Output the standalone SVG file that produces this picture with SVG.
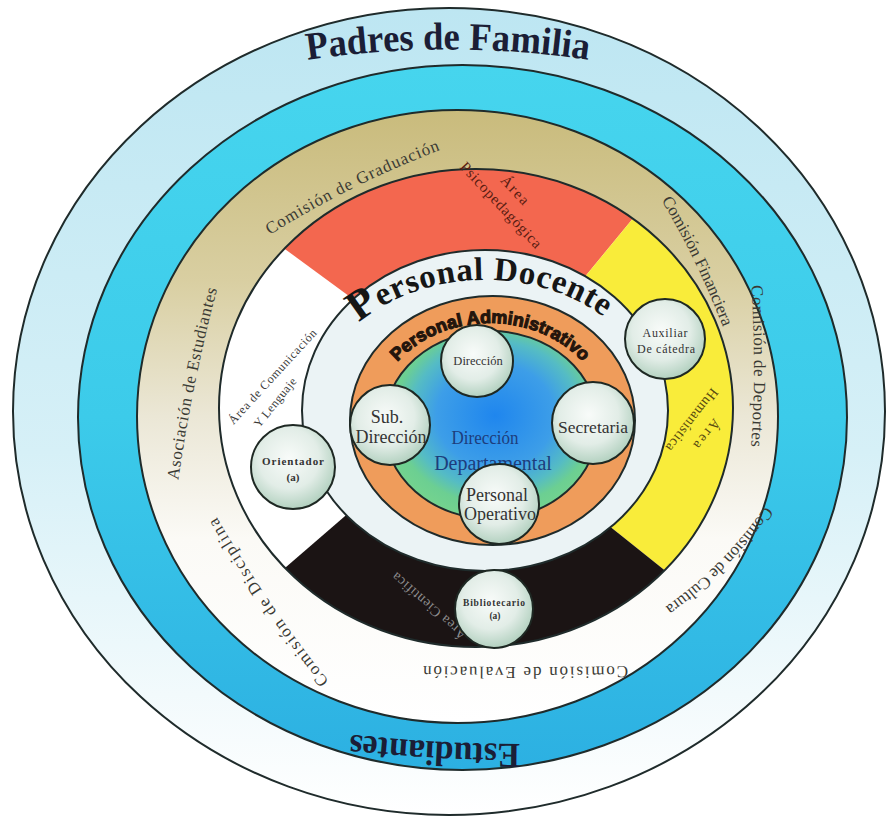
<svg xmlns="http://www.w3.org/2000/svg" width="888" height="821" viewBox="0 0 888 821">
<defs>
<style>
.ring{stroke:#1f2b2b;stroke-width:2}
.com{font-family:"Liberation Serif","Times New Roman",serif;font-size:17px;fill:#3a3a34}
.node circle{fill:url(#nodeGrad);stroke:#1e2823;stroke-width:2}
.nt{font-family:"Liberation Serif","Times New Roman",serif;fill:#333;text-anchor:middle}
.area{font-family:"Liberation Serif","Times New Roman",serif;text-anchor:middle;dominant-baseline:central}
</style>
<linearGradient id="lbGrad" x1="0" y1="0" x2="0" y2="1">
<stop offset="0" stop-color="#bde6f2"/><stop offset="0.55" stop-color="#d6f0f7"/><stop offset="0.85" stop-color="#f2fafc"/><stop offset="1" stop-color="#ffffff"/>
</linearGradient>
<linearGradient id="cyGrad" x1="0" y1="0" x2="0" y2="1">
<stop offset="0" stop-color="#46d5ee"/><stop offset="0.5" stop-color="#3ccbea"/><stop offset="1" stop-color="#2cb0e2"/>
</linearGradient>
<linearGradient id="bgGrad" x1="0" y1="0" x2="0" y2="1">
<stop offset="0" stop-color="#c9bb7c"/><stop offset="0.28" stop-color="#d9cfa2"/><stop offset="0.5" stop-color="#ebe7d6"/><stop offset="0.7" stop-color="#fbfaf6"/><stop offset="1" stop-color="#ffffff"/>
</linearGradient>
<radialGradient id="ctrGrad" cx="0.52" cy="0.45" r="0.55">
<stop offset="0" stop-color="#1f86ee"/><stop offset="0.5" stop-color="#3d9ee8"/><stop offset="0.72" stop-color="#55bcc4"/><stop offset="0.86" stop-color="#6ccf92"/><stop offset="1" stop-color="#74d38e"/>
</radialGradient>
<radialGradient id="nodeGrad" cx="0.45" cy="0.4" r="0.6">
<stop offset="0" stop-color="#f8fbf9"/><stop offset="0.6" stop-color="#e2ede7"/><stop offset="1" stop-color="#b3d1c0"/>
</radialGradient>
<clipPath id="ring4clip"><ellipse cx="476" cy="408" rx="257" ry="239"/></clipPath>
<path id="p-padres" d="M 300,61 Q 448,38 596,61"/>
<path id="p-estud" d="M 524,744 Q 436,744 346,734"/>
<path id="p-docente" d="M 315,410 A 170,130 0 0 1 655,410"/>
<path id="p-admin" d="M 372,425 A 118,102 0 0 1 608,425"/>
<path id="p-grad" d="M 263,232 Q 347.5,178.5 442,143"/>
<path id="p-asoc" d="M 172,482 Q 186,382 212,285"/>
<path id="p-fin" d="M 666,196 Q 702.5,257 729,326"/>
<path id="p-dep" d="M 757,283 Q 763,366 757,449"/>
<path id="p-cult" d="M 771,508 Q 729,570 667,613"/>
<path id="p-eval" d="M 630,672 Q 526,674 421,672"/>
<path id="p-disc" d="M 330,692 Q 264,612 207,512"/>
</defs>
<rect width="888" height="821" fill="#ffffff"/>

<g id="rings">
<ellipse id="ring-padres" class="ring" cx="449" cy="411.5" rx="436" ry="403.5" fill="url(#lbGrad)"/>
<ellipse id="ring-estudiantes" class="ring" cx="462.5" cy="417.5" rx="384.5" ry="352.5" fill="url(#cyGrad)"/>
<ellipse id="ring-comisiones" class="ring" cx="457.5" cy="416.5" rx="320.5" ry="306.5" fill="url(#bgGrad)"/>
<ellipse cx="476" cy="408" rx="257" ry="239" fill="#ffffff"/>
<g id="sectores" clip-path="url(#ring4clip)">
<polygon id="sector-psico" fill="#f3674f" points="432,357 180,172 180,40 700,40 693,145.5 537.6,334.2"/>
<polygon id="sector-human" fill="#f9ec3a" points="537.6,334.2 693,145.5 820,140 820,650 748,637 563,489"/>
<polygon id="sector-cient" fill="#1b1414" points="563,489 748,637 760,730 190,730 207,635.5 399.4,469"/>
</g>
<ellipse class="ring" cx="476" cy="408" rx="257" ry="239" fill="none"/>
<ellipse id="ring-docente" class="ring" cx="485" cy="410.5" rx="183" ry="160.5" fill="#ebf3f5"/>
<ellipse id="ring-admin" class="ring" cx="492.5" cy="420.5" rx="142.5" ry="124.5" fill="#ef9c5b"/>
<ellipse id="centro" class="ring" cx="491" cy="425" rx="107" ry="94" fill="url(#ctrGrad)"/>
</g>

<g id="padres-de-familia">
<text font-family="Liberation Serif, Times New Roman, serif" font-weight="bold" font-size="39" fill="#1b1e36"><textPath href="#p-padres" startOffset="50%" text-anchor="middle" textLength="282" lengthAdjust="spacingAndGlyphs">Padres de Familia</textPath></text>
</g>
<g id="estudiantes">
<text font-family="Liberation Serif, Times New Roman, serif" font-weight="bold" font-size="35" fill="#1b1e36"><textPath href="#p-estud" startOffset="4" textLength="170" lengthAdjust="spacingAndGlyphs">Estudiantes</textPath></text>
</g>

<g id="comisiones" class="com" dominant-baseline="central">
<text class="com"><textPath href="#p-grad" startOffset="50%" text-anchor="middle" textLength="192" lengthAdjust="spacing">Comisión de Graduación</textPath></text>
<text class="com"><textPath href="#p-asoc" startOffset="50%" text-anchor="middle" textLength="196" lengthAdjust="spacing">Asociación de Estudiantes</textPath></text>
<text class="com"><textPath href="#p-fin" startOffset="50%" text-anchor="middle" textLength="142" lengthAdjust="spacing">Comisión Financiera</textPath></text>
<text class="com"><textPath href="#p-dep" startOffset="50%" text-anchor="middle" textLength="162" lengthAdjust="spacing">Comisión de Deportes</textPath></text>
<text class="com"><textPath href="#p-cult" startOffset="50%" text-anchor="middle" textLength="145" lengthAdjust="spacing">Comisión de Cultura</textPath></text>
<text class="com"><textPath href="#p-eval" startOffset="50%" text-anchor="middle" textLength="205" lengthAdjust="spacing">Comisión de Evaluación</textPath></text>
<text class="com"><textPath href="#p-disc" startOffset="50%" text-anchor="middle" textLength="200" lengthAdjust="spacing">Comisión de Disciplina</textPath></text>
</g>

<g id="areas">
<text class="area" font-size="15" fill="#5b1d12" transform="translate(501,205) rotate(47)" textLength="112" lengthAdjust="spacing">Psicopedagógica</text>
<text class="area" font-size="15" fill="#5b1d12" transform="translate(515,190) rotate(47)" textLength="34" lengthAdjust="spacing">Área</text>
<text class="area" font-size="12" fill="#3a3a3a" transform="translate(272.5,376.5) rotate(-47.5)" textLength="124" lengthAdjust="spacing">Área de Comunicación</text>
<text class="area" font-size="12" fill="#3a3a3a" transform="translate(275,402.5) rotate(-51)" textLength="60" lengthAdjust="spacing">Y Lenguaje</text>
<text class="area" font-size="14" fill="#55470f" transform="translate(692,420) rotate(128)" textLength="76" lengthAdjust="spacing">Humanística</text>
<text class="area" font-size="14" fill="#55470f" transform="translate(707,434) rotate(128)" textLength="34" lengthAdjust="spacing">Área</text>
<text class="area" font-size="14" fill="#8e8e8e" transform="translate(429,606) rotate(221)" textLength="94" lengthAdjust="spacing">Área Científica</text>
</g>

<g id="personal-docente">
<text font-family="Liberation Serif, Times New Roman, serif" font-weight="bold" font-size="33" fill="#161616"><textPath href="#p-docente" startOffset="49%" text-anchor="middle" textLength="262" lengthAdjust="spacing"><tspan font-size="43">P</tspan>ersonal Docente</textPath></text>
</g>
<g id="personal-administrativo">
<text font-family="Liberation Sans, Arial, sans-serif" font-weight="bold" font-size="18" fill="#24150c" stroke="#24150c" stroke-width="1.1"><textPath href="#p-admin" startOffset="50%" text-anchor="middle">Personal Administrativo</textPath></text>
</g>
<g id="direccion-departamental">
<text class="nt" x="485" y="444" font-size="18" textLength="67" lengthAdjust="spacingAndGlyphs" style="fill:#1d3d7c">Dirección</text>
<text class="nt" x="493" y="470" font-size="20" style="fill:#1d3d7c">Departamental</text>
</g>

<g id="node-direccion" class="node">
<circle cx="477" cy="361" r="36"/>
<text class="nt" x="478" y="365" font-size="12.5">Dirección</text>
</g>
<g id="node-subdireccion" class="node">
<circle cx="390" cy="425" r="40"/>
<text class="nt" x="387" y="423" font-size="18">Sub.</text>
<text class="nt" x="391" y="443" font-size="18">Dirección</text>
</g>
<g id="node-secretaria" class="node">
<circle cx="593" cy="423" r="41"/>
<text class="nt" x="593" y="433" font-size="17.5">Secretaria</text>
</g>
<g id="node-operativo" class="node">
<circle cx="499" cy="504" r="40"/>
<text class="nt" x="497" y="501" font-size="18">Personal</text>
<text class="nt" x="500" y="520" font-size="18">Operativo</text>
</g>
<g id="node-auxiliar" class="node">
<circle cx="665" cy="339" r="40"/>
<text class="nt" x="665" y="337" font-size="12" textLength="45" lengthAdjust="spacing">Auxiliar</text>
<text class="nt" x="666" y="353" font-size="12" textLength="58" lengthAdjust="spacing">De cátedra</text>
</g>
<g id="node-orientador" class="node">
<circle cx="293" cy="467" r="42"/>
<text class="nt" x="293" y="465" font-size="11" font-weight="bold" textLength="62" lengthAdjust="spacing">Orientador</text>
<text class="nt" x="293" y="481" font-size="11" font-weight="bold">(a)</text>
</g>
<g id="node-bibliotecario" class="node">
<circle cx="494" cy="609" r="39"/>
<text class="nt" x="494" y="606" font-size="9.5" font-weight="bold" textLength="62" lengthAdjust="spacing">Bibliotecario</text>
<text class="nt" x="495" y="619" font-size="9.5" font-weight="bold">(a)</text>
</g>
</svg>
